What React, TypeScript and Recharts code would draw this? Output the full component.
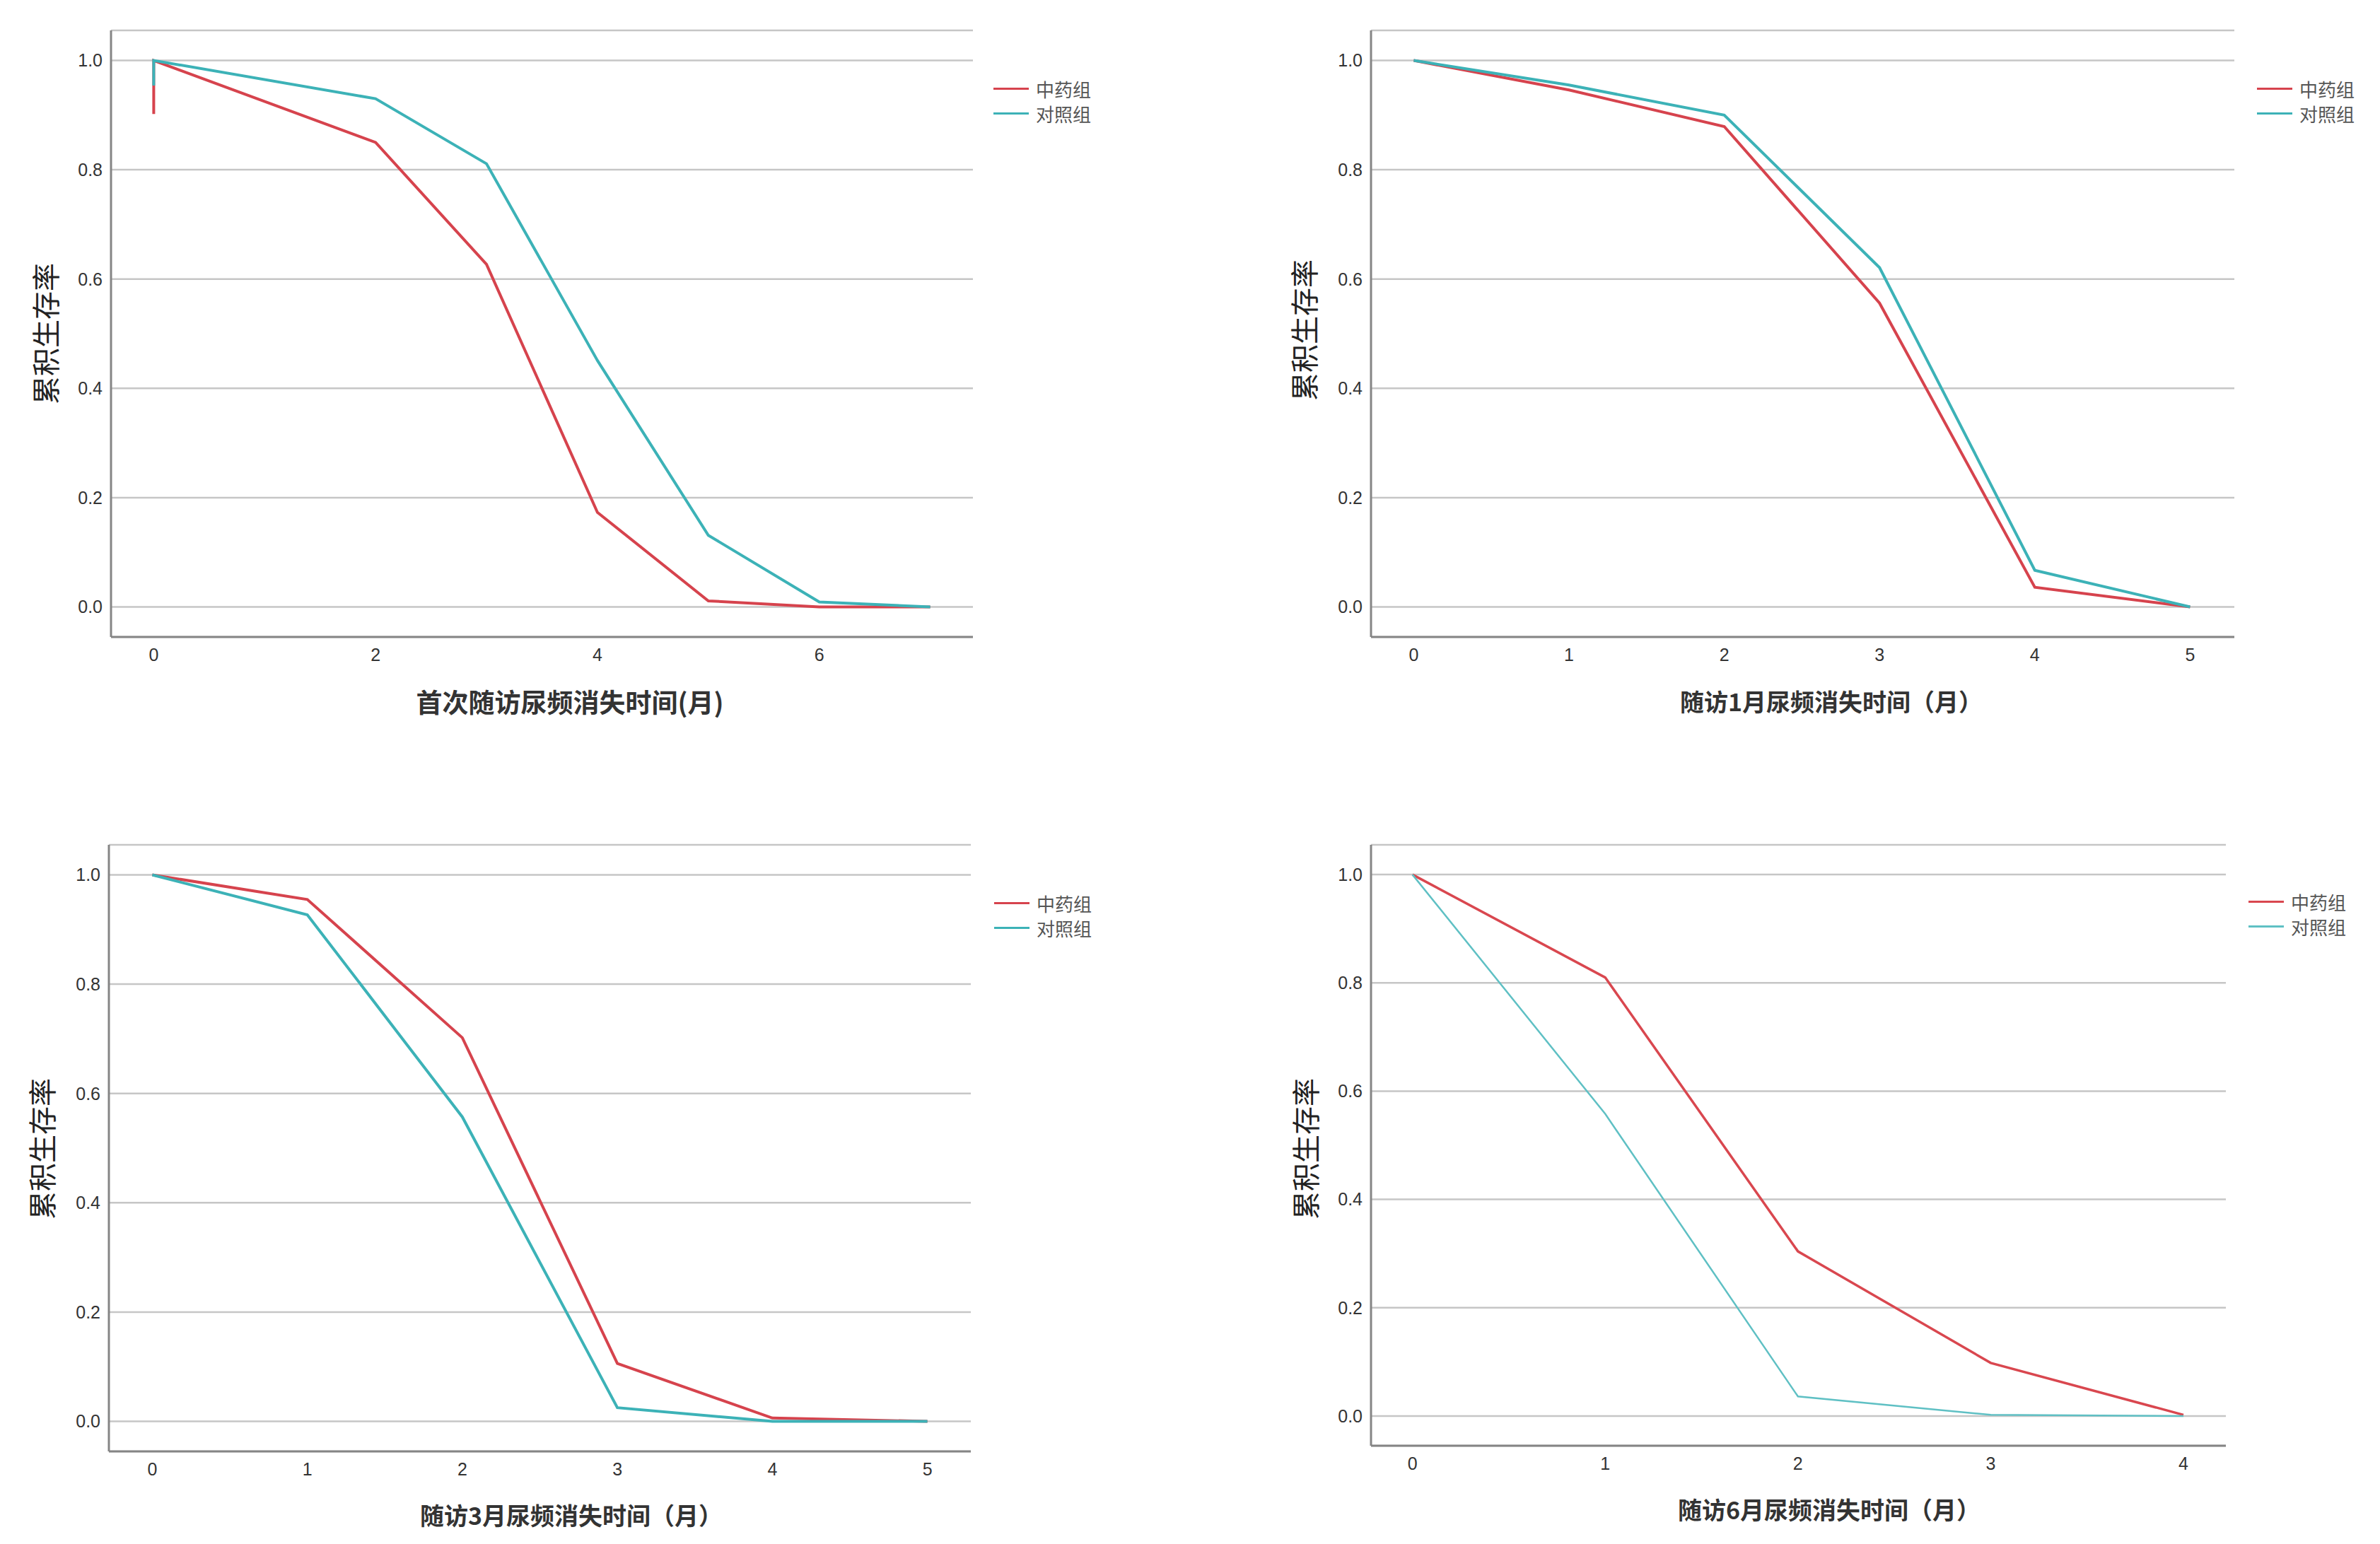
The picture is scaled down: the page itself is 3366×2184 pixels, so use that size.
import React from 'react';
import { LineChart, Line, XAxis, YAxis, CartesianGrid, Legend, Label } from 'recharts';

const FONT_NUM = '"Liberation Sans", Arial, sans-serif';
const FONT_CJK = '"Noto Sans CJK SC", "Noto Sans", sans-serif';

const groupNames = ['中药组', '对照组'];
const yTicks = [0, 0.2, 0.4, 0.6, 0.8, 1.0];
const yLabel = '累积生存率';

// 首次随访
const firstMonths = [0, 0, 2, 3, 4, 5, 6, 7];
const firstHerbal = [0.902, 1.0, 0.85, 0.627, 0.173, 0.011, 0, 0];
const firstControl = [0.954, 1.0, 0.93, 0.811, 0.451, 0.131, 0.009, 0];
const firstTicks = [0, 2, 4, 6];

// 随访1月
const m1Months = [0, 1, 2, 3, 4, 5];
const m1Herbal = [1.0, 0.946, 0.879, 0.556, 0.036, 0];
const m1Control = [1.0, 0.955, 0.9, 0.621, 0.067, 0];
const m1Ticks = [0, 1, 2, 3, 4, 5];

// 随访3月
const m3Months = [0, 1, 2, 3, 4, 5];
const m3Herbal = [1.0, 0.955, 0.702, 0.106, 0.006, 0];
const m3Control = [1.0, 0.927, 0.557, 0.025, 0, 0];
const m3Ticks = [0, 1, 2, 3, 4, 5];

// 随访6月
const m6Months = [0, 1, 2, 3, 4];
const m6Herbal = [1.0, 0.81, 0.304, 0.098, 0.002];
const m6Control = [1.0, 0.558, 0.036, 0.002, 0];
const m6Ticks = [0, 1, 2, 3, 4];

const zip = (months: number[], vals: number[]) => months.map((t, i) => ({ t, s: vals[i] }));

const panels = [
  {
    title: '首次随访尿频消失时间(月)', titleSize: 37,
    months: firstMonths, herbal: firstHerbal, control: firstControl, ticks: firstTicks,
    chart: { left: 0, top: 0, w: 1700, h: 1040 },
    plot: { l: 157, r: 1376, t: 43, b: 901 },
    xDomain: [-0.385, 7.385],
    titlePos: [806, 992], yLabelPos: [63, 472], legendPos: [1405, 125],
    red: { c: '#d6434d', w: 4 }, teal: { c: '#3cb2b7', w: 4 },
  },
  {
    title: '随访1月尿频消失时间（月）', titleSize: 34,
    months: m1Months, herbal: m1Herbal, control: m1Control, ticks: m1Ticks,
    chart: { left: 1700, top: 0, w: 1666, h: 1040 },
    plot: { l: 1939, r: 3160, t: 43, b: 901 },
    xDomain: [-0.275, 5.285],
    titlePos: [2590, 991], yLabelPos: [1843, 467], legendPos: [3192, 125],
    red: { c: '#d6434d', w: 4 }, teal: { c: '#3cb2b7', w: 4 },
  },
  {
    title: '随访3月尿频消失时间（月）', titleSize: 34,
    months: m3Months, herbal: m3Herbal, control: m3Control, ticks: m3Ticks,
    chart: { left: 0, top: 1100, w: 1700, h: 1084 },
    plot: { l: 154, r: 1373, t: 1195, b: 2053 },
    xDomain: [-0.28, 5.28],
    titlePos: [808, 2142], yLabelPos: [58, 1625], legendPos: [1406, 1277],
    red: { c: '#d6434d', w: 4 }, teal: { c: '#3cb2b7', w: 4 },
  },
  {
    title: '随访6月尿频消失时间（月）', titleSize: 34,
    months: m6Months, herbal: m6Herbal, control: m6Control, ticks: m6Ticks,
    chart: { left: 1700, top: 1100, w: 1666, h: 1084 },
    plot: { l: 1939, r: 3148, t: 1195, b: 2045 },
    xDomain: [-0.215, 4.22],
    titlePos: [2587, 2134], yLabelPos: [1845, 1625], legendPos: [3180, 1275],
    red: { c: '#d9474f', w: 3.5 }, teal: { c: '#5fc0c4', w: 2.5 },
  },
];

function Panel({ p }: any) {
  const { chart, plot } = p;
  const margin = { top: plot.t - chart.top, right: chart.left + chart.w - plot.r, left: 0, bottom: 0 };
  const tx = p.titlePos[0] - chart.left;
  const ty = p.titlePos[1] - chart.top;
  const lx = p.yLabelPos[0] - chart.left;
  const ly = p.yLabelPos[1] - chart.top;

  const renderLegend = (props: any) => (
    <div style={{ fontFamily: FONT_CJK, fontSize: 26, color: '#555' }}>
      {(props.payload || []).map((e: any) => (
        <div key={e.value} style={{ display: 'flex', alignItems: 'center', height: 35 }}>
          <div style={{ width: 50, height: 3, background: e.color, marginRight: 10 }} />
          <span>{e.value}</span>
        </div>
      ))}
    </div>
  );

  return (
    <div style={{ position: 'absolute', left: chart.left, top: chart.top }}>
      <LineChart width={chart.w} height={chart.h} margin={margin}>
        <CartesianGrid vertical={false} stroke="#c6c6c6" strokeWidth={2.5} />
        <XAxis
          dataKey="t"
          type="number"
          domain={p.xDomain}
          ticks={p.ticks}
          allowDataOverflow
          height={chart.top + chart.h - plot.b}
          axisLine={{ stroke: '#858585', strokeWidth: 3 }}
          tickLine={false}
          tickSize={0}
          tickMargin={16}
          tick={{ fontSize: 25, fill: '#333', fontFamily: FONT_NUM }}
        >
          <Label
            content={() => (
              <text x={tx} y={ty} textAnchor="middle" dominantBaseline="central"
                style={{ fontFamily: FONT_CJK, fontSize: p.titleSize, fontWeight: 700, fill: '#333' }}>
                {p.title}
              </text>
            )}
          />
        </XAxis>
        <YAxis
          type="number"
          domain={[-0.055, 1.055]}
          ticks={yTicks}
          allowDataOverflow
          width={plot.l - chart.left}
          axisLine={{ stroke: '#858585', strokeWidth: 3 }}
          tickLine={false}
          tickSize={0}
          tickMargin={12}
          tickFormatter={(v: number) => v.toFixed(1)}
          tick={{ fontSize: 25, fill: '#333', fontFamily: FONT_NUM }}
        >
          <Label
            content={() => (
              <text x={lx} y={ly} textAnchor="middle" dominantBaseline="central"
                transform={`rotate(-90, ${lx}, ${ly})`}
                style={{ fontFamily: FONT_CJK, fontSize: 40, fill: '#222' }}>
                {yLabel}
              </text>
            )}
          />
        </YAxis>
        <Legend
          layout="vertical"
          align="center"
          verticalAlign="middle"
          wrapperStyle={{ left: p.legendPos[0] - chart.left, top: p.legendPos[1] - chart.top - 17, width: 200, height: 80 }}
          content={renderLegend}
        />
        <Line
          data={zip(p.months, p.herbal)}
          dataKey="s"
          name={groupNames[0]}
          type="linear"
          stroke={p.red.c}
          strokeWidth={p.red.w}
          dot={false}
          activeDot={false}
          legendType="plainline"
          isAnimationActive={false}
        />
        <Line
          data={zip(p.months, p.control)}
          dataKey="s"
          name={groupNames[1]}
          type="linear"
          stroke={p.teal.c}
          strokeWidth={p.teal.w}
          dot={false}
          activeDot={false}
          legendType="plainline"
          isAnimationActive={false}
        />
      </LineChart>
    </div>
  );
}

export default function App() {
  return (
    <div style={{ position: 'absolute', left: 0, top: 0, width: 3366, height: 2184, background: '#fff' }}>
      {panels.map((p, i) => (
        <Panel key={i} p={p} />
      ))}
    </div>
  );
}
